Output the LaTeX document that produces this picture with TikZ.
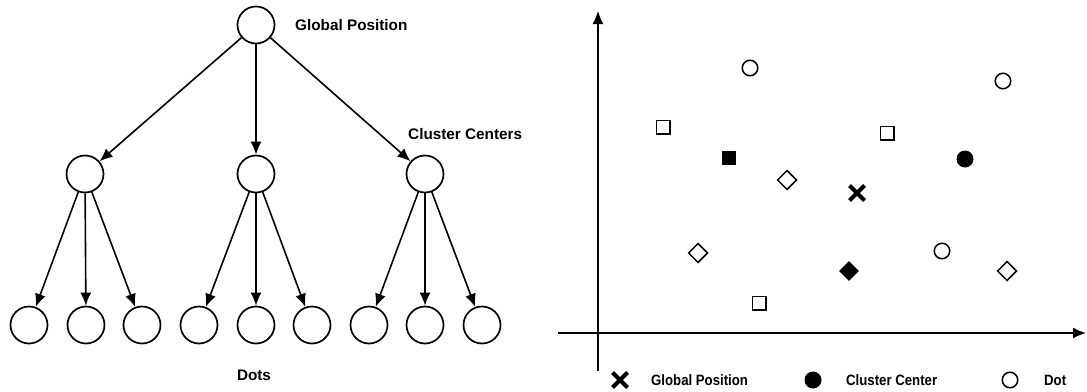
\documentclass[tikz,border=0pt]{standalone}
\usepackage{fontspec}
\setmainfont{Liberation Sans}
\usetikzlibrary{arrows.meta,shapes.geometric,shapes.misc}
\newcommand{\narrowtext}[1]{\scalebox{0.88}[1]{#1}}
\begin{document}
\begin{tikzpicture}[x=1pt,y=-1pt,
  tnode/.style={circle,draw,line width=1.7pt,minimum size=37pt,inner sep=0pt},
  tarrow/.style={line width=1.6pt,-{Latex[length=13pt,width=11pt]}},
  tlabel/.style={inner sep=0pt,font=\bfseries\fontsize{15.3}{17}\selectfont},
  llabel/.style={inner sep=0pt,anchor=west,font=\bfseries\fontsize{15}{17}\selectfont},
  axis/.style={line width=1.6pt,-{Latex[length=13pt,width=11pt]}},
  mcirc/.style={circle,draw,line width=1.5pt,minimum size=15.5pt,inner sep=0pt},
  mcircf/.style={circle,fill,minimum size=17pt,inner sep=0pt},
  msq/.style={rectangle,draw,line width=1.5pt,minimum size=13.5pt,inner sep=0pt},
  msqf/.style={rectangle,fill,minimum size=14.5pt,inner sep=0pt},
  mdia/.style={diamond,draw,line width=1.5pt,minimum size=19.5pt,inner sep=0pt},
  mdiaf/.style={diamond,fill,minimum size=20pt,inner sep=0pt},
  mcross/.style={cross out,draw,line width=4pt,minimum size=11pt,inner sep=0pt}
]
\useasboundingbox (0,0) rectangle (1087,391);

% ---- Tree ----
\node[tnode] (root) at (256,25) {};
\node[tlabel,anchor=west] (lglob) at (295,25) {Global Position};

\node[tnode] (c1) at (85,174) {};
\node[tnode] (c2) at (256,174) {};
\node[tnode] (c3) at (425,174) {};
\node[tlabel,anchor=west] (lclus) at (408,134) {Cluster Centers};

\foreach \i/\x in {1/29,2/86,3/142,4/199,5/256,6/312,7/369,8/425,9/482}
  \node[tnode] (d\i) at (\x,325) {};
\node[tlabel] (ldots) at (254,375) {Dots};

\foreach \c in {c1,c2,c3}
  \draw[tarrow] (root) -- (\c);
\draw[tarrow] (c1) -- (d1);
\draw[tarrow] (c1) -- (d2);
\draw[tarrow] (c1) -- (d3);
\draw[tarrow] (c2) -- (d4);
\draw[tarrow] (c2) -- (d5);
\draw[tarrow] (c2) -- (d6);
\draw[tarrow] (c3) -- (d7);
\draw[tarrow] (c3) -- (d8);
\draw[tarrow] (c3) -- (d9);

% ---- Plot ----
\coordinate (ybot) at (598,371);
\coordinate (ytop) at (598,11);
\coordinate (xleft) at (558,333);
\coordinate (xright) at (1086,333);
\draw[axis] (ybot) -- (ytop);
\draw[axis] (xleft) -- (xright);

\node[mcirc] (p1) at (750,68) {};
\node[mcirc] (p2) at (1003,81) {};
\node[mcirc] (p3) at (942,251) {};
\node[msq] (s1) at (663,127) {};
\node[msq] (s2) at (887,133) {};
\node[msq] (s3) at (759,303) {};
\node[msqf] (sf) at (729,158) {};
\node[mcircf] (cf) at (965,159) {};
\node[mdia] (q1) at (787,180) {};
\node[mdia] (q2) at (698,253) {};
\node[mdia] (q3) at (1007,271) {};
\node[mdiaf] (qf) at (849,271) {};
\node[mcross] (gx) at (857,193) {};

% ---- Legend ----
\node[mcross] (lgx) at (620,380) {};
\node[llabel] (lgt) at (651,380) {\narrowtext{Global Position}};
\node[mcircf] (lcf) at (813,380) {};
\node[llabel] (lct) at (846,380) {\narrowtext{Cluster Center}};
\node[mcirc] (ldc) at (1010,380) {};
\node[llabel] (ldt) at (1044,380) {\narrowtext{Dot}};
\end{tikzpicture}
\end{document}
